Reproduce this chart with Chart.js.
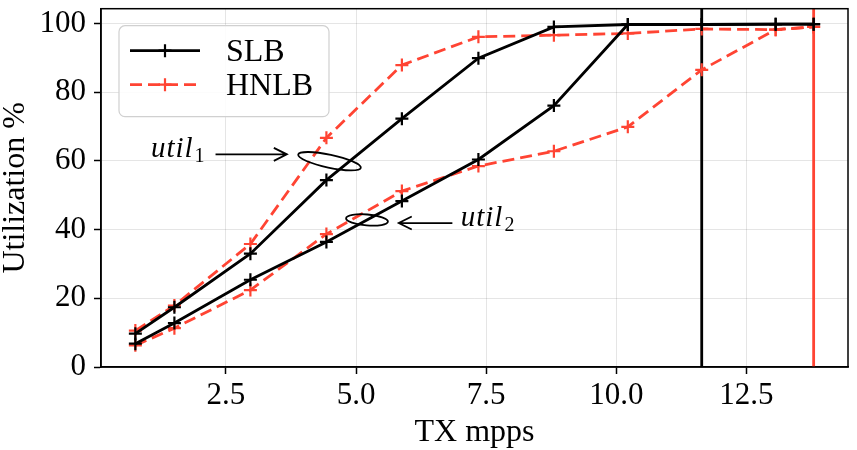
<!DOCTYPE html>
<html>
<head>
<meta charset="utf-8">
<script src="https://cdn.jsdelivr.net/npm/chart.js@4.4.1/dist/chart.umd.min.js"></script>
<style>
  html, body { margin: 0; padding: 0; background: #fff; }
  #wrap { width: 857px; height: 450px; }
</style>
</head>
<body>
<div id="wrap"><canvas id="myChart"></canvas></div>
<script>
// offered load (x) and measured utilization for each balancer
const txMpps = [0.76, 1.51, 2.97, 4.43, 5.88, 7.35, 8.80, 10.22, 11.64, 13.06, 13.79];
const slbUtil1 = [9.7, 17.4, 33.0, 54.4, 72.3, 89.9, 99.0, 99.7, 99.7, 99.8, 99.8];
const slbUtil2 = [6.8, 12.8, 25.4, 36.4, 48.3, 60.4, 76.1, 99.7, 99.7, 99.8, 99.8];
const hnlbUtil1 = [10.6, 17.9, 35.8, 66.7, 87.9, 96.1, 96.6, 97.1, 98.4, 98.2, 99.0];
const hnlbUtil2 = [6.3, 11.3, 22.4, 38.7, 51.2, 58.5, 62.8, 69.9, 86.5, 98.2, 99.0];
const slbMaxTx = 11.64;
const hnlbMaxTx = 13.79;

const xTicks = [2.5, 5.0, 7.5, 10.0, 12.5];
const yTicks = [0, 20, 40, 60, 80, 100];
const X_MIN = 0.1, X_MAX = 14.45;
const Y_MIN = 0, Y_MAX = 104.3;

const RED = '#ff4433';
const SERIF = '"Liberation Serif", "DejaVu Serif", serif';

const toPoints = ys => txMpps.map((x, i) => ({x: x, y: ys[i]}));
const vLine = x => [{x: x, y: Y_MIN}, {x: x, y: Y_MAX}];

const seriesStyle = (color, dashed) => ({
  showLine: true,
  borderColor: color,
  backgroundColor: color,
  borderWidth: 2.8,
  borderDash: dashed ? [12, 6] : [],
  pointStyle: 'cross',
  pointRadius: 6.5,
  pointBorderWidth: 2.2,
  pointBorderColor: color,
  tension: 0
});

// util_1 / util_2 callouts, anchored in data units
const notes = [
  {sub: '1', tx: 2.07, ty: 61.2, align: 'right', from: [2.30, 61.9], to: [3.67, 61.9],
   ell: {x: 4.49, y: 59.9, rx: 32, ry: 6.5, rot: 0.21}},
  {sub: '2', tx: 7.01, ty: 41.0, align: 'left', from: [6.85, 41.9], to: [5.82, 41.9],
   ell: {x: 5.21, y: 42.8, rx: 21, ry: 5.5, rot: 0.08}}
];

const annotations = {
  id: 'annotations',
  afterDatasetsDraw(chart) {
    const {ctx, scales: {x, y}} = chart;
    ctx.save();
    ctx.strokeStyle = '#000';
    ctx.fillStyle = '#000';
    ctx.lineWidth = 1.8;
    for (const n of notes) {
      ctx.beginPath();
      ctx.ellipse(x.getPixelForValue(n.ell.x), y.getPixelForValue(n.ell.y), n.ell.rx, n.ell.ry, n.ell.rot, 0, Math.PI * 2);
      ctx.stroke();
      const x0 = x.getPixelForValue(n.from[0]), y0 = y.getPixelForValue(n.from[1]);
      const x1 = x.getPixelForValue(n.to[0]), y1 = y.getPixelForValue(n.to[1]);
      const dir = Math.sign(x1 - x0);
      ctx.beginPath();
      ctx.moveTo(x0, y0); ctx.lineTo(x1, y1);
      ctx.moveTo(x1 - dir * 13, y1 - 6.5); ctx.lineTo(x1, y1); ctx.lineTo(x1 - dir * 13, y1 + 6.5);
      ctx.stroke();
      // "util" in italic with an upright subscript
      ctx.textBaseline = 'alphabetic';
      ctx.textAlign = 'left';
      ctx.font = 'italic 29px ' + SERIF;
      ctx.letterSpacing = '1px';
      const wMain = ctx.measureText('util').width;
      ctx.letterSpacing = '0px';
      ctx.font = '20px ' + SERIF;
      const wSub = ctx.measureText(n.sub).width;
      const px = x.getPixelForValue(n.tx), py = y.getPixelForValue(n.ty);
      const left = n.align === 'right' ? px - wMain - wSub : px;
      ctx.font = 'italic 29px ' + SERIF;
      ctx.letterSpacing = '1px';
      ctx.fillText('util', left, py);
      ctx.letterSpacing = '0px';
      ctx.font = '20px ' + SERIF;
      ctx.fillText(n.sub, left + wMain + 1, py + 5);
    }
    ctx.restore();
  }
};

const legendBox = {
  id: 'legendBox',
  afterDraw(chart) {
    const {ctx, chartArea: a} = chart;
    ctx.save();
    ctx.strokeStyle = '#000';
    ctx.lineWidth = 1.5;
    ctx.strokeRect(a.left, a.top, a.right - a.left, a.bottom - a.top);

    const bx = a.left + 18, by = a.top + 17, bw = 210, bh = 91;
    ctx.beginPath();
    ctx.roundRect(bx, by, bw, bh, 6);
    ctx.fillStyle = 'rgba(255,255,255,0.85)';
    ctx.fill();
    ctx.strokeStyle = '#d0d0d0';
    ctx.lineWidth = 1.2;
    ctx.stroke();

    const items = [
      {text: 'SLB', color: '#000', dash: []},
      {text: 'HNLB', color: RED, dash: [12, 6]}
    ];
    items.forEach((it, i) => {
      const ly = by + 25 + i * 34;
      ctx.strokeStyle = it.color;
      ctx.lineWidth = 2.8;
      ctx.setLineDash(it.dash);
      ctx.beginPath();
      ctx.moveTo(bx + 11, ly); ctx.lineTo(bx + 81, ly);
      ctx.stroke();
      ctx.setLineDash([]);
      ctx.lineWidth = 2.2;
      const cx = bx + 46;
      ctx.beginPath();
      ctx.moveTo(cx - 6.5, ly); ctx.lineTo(cx + 6.5, ly);
      ctx.moveTo(cx, ly - 6.5); ctx.lineTo(cx, ly + 6.5);
      ctx.stroke();
      ctx.fillStyle = '#000';
      ctx.font = '32px ' + SERIF;
      ctx.textBaseline = 'middle';
      ctx.fillText(it.text, bx + 107, ly + 2);
    });
    ctx.restore();
  }
};

new Chart('myChart', {
  type: 'scatter',
  data: {
    datasets: [
      Object.assign({label: 'SLB', data: toPoints(slbUtil1)}, seriesStyle('#000', false)),
      Object.assign({label: 'SLB util2', data: toPoints(slbUtil2)}, seriesStyle('#000', false)),
      Object.assign({label: 'HNLB', data: toPoints(hnlbUtil1)}, seriesStyle(RED, true)),
      Object.assign({label: 'HNLB util2', data: toPoints(hnlbUtil2)}, seriesStyle(RED, true)),
      {label: 'SLB max', data: vLine(slbMaxTx), showLine: true, borderColor: '#000', borderWidth: 2.8, pointRadius: 0},
      {label: 'HNLB max', data: vLine(hnlbMaxTx), showLine: true, borderColor: RED, borderWidth: 2.8, pointRadius: 0}
    ]
  },
  options: {
    responsive: true,
    maintainAspectRatio: false,
    animation: false,
    layout: {padding: {top: 7, right: 9, left: 0, bottom: 0}},
    plugins: {legend: {display: false}, tooltip: {enabled: false}},
    scales: {
      x: {
        type: 'linear',
        min: X_MIN,
        max: X_MAX,
        afterBuildTicks: s => { s.ticks = xTicks.map(v => ({value: v})); },
        afterFit: s => { s.height = 83; s.paddingLeft = 0; s.paddingRight = 0; },
        grid: {color: 'rgba(0,0,0,0.1)', lineWidth: 1, tickColor: '#000', tickLength: 7, tickWidth: 1.5},
        border: {display: true, color: '#000', width: 1.5},
        ticks: {color: '#000', padding: 6, font: {family: SERIF, size: 31, lineHeight: 1}, maxRotation: 0,
                callback: v => v.toFixed(1)},
        title: {display: true, text: 'TX mpps', color: '#000', padding: {top: 0, bottom: 0},
                font: {family: SERIF, size: 32, lineHeight: 1.1}}
      },
      y: {
        min: Y_MIN,
        max: Y_MAX,
        afterBuildTicks: s => { s.ticks = yTicks.map(v => ({value: v})); },
        afterFit: s => { s.width = 101; s.paddingTop = 0; s.paddingBottom = 0; },
        grid: {color: 'rgba(0,0,0,0.1)', lineWidth: 1, tickColor: '#000', tickLength: 7, tickWidth: 1.5},
        border: {display: true, color: '#000', width: 1.5},
        ticks: {color: '#000', padding: 8, font: {family: SERIF, size: 31, lineHeight: 1}},
        title: {display: true, text: 'Utilization %', color: '#000', padding: {top: 0, bottom: 0},
                font: {family: SERIF, size: 32, lineHeight: 1}}
      }
    }
  },
  plugins: [annotations, legendBox]
});
</script>
</body>
</html>
